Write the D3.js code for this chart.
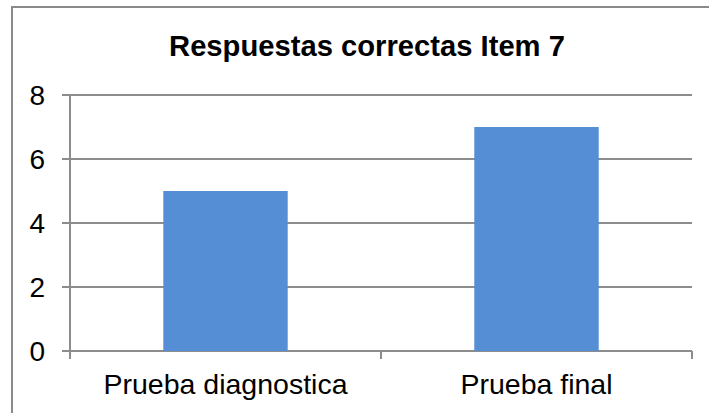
<!DOCTYPE html>
<html>
<head>
<meta charset="utf-8">
<script src="https://cdn.jsdelivr.net/npm/d3@7"></script>
<style>
  html, body { margin: 0; padding: 0; background: #ffffff; }
  svg { display: block; font-family: "Liberation Sans", Arial, sans-serif; }
</style>
</head>
<body>
<svg id="chart" width="709" height="413"></svg>
<script>
// Data
const categories = ["Prueba diagnostica", "Prueba final"];
const values = [5, 7];
const yTicks = [0, 2, 4, 6, 8];
const title = "Respuestas correctas Item 7";

const svg = d3.select("#chart");
const W = 709, H = 413;
const plot = { left: 70, right: 692, top: 95, bottom: 351 };
const gridColor = "#8c8c8c";
const barColor = "#558ed5";

// Chart frame (only top and left edges fall inside the view)
svg.append("path")
  .attr("d", `M12,${H} L12,7 L${W},7`)
  .attr("fill", "none")
  .attr("stroke", "#8a8a8a")
  .attr("stroke-width", 2);

// Title
svg.append("text")
  .attr("x", 367)
  .attr("y", 56)
  .attr("text-anchor", "middle")
  .attr("font-size", 29.2)
  .attr("font-weight", "bold")
  .attr("fill", "#000")
  .text(title);

const x = d3.scaleBand()
  .domain(categories)
  .range([plot.left, plot.right])
  .paddingInner(0.6)
  .paddingOuter(0.3);

const xOuter = d3.scaleBand()
  .domain(categories)
  .range([plot.left, plot.right]);

const y = d3.scaleLinear()
  .domain([0, 8])
  .range([plot.bottom, plot.top]);

// Horizontal gridlines (extend left over the tick marks)
svg.append("g")
  .selectAll("line")
  .data(yTicks)
  .join("line")
  .attr("x1", plot.left - 8)
  .attr("x2", plot.right)
  .attr("y1", d => y(d))
  .attr("y2", d => y(d))
  .attr("stroke", gridColor)
  .attr("stroke-width", 2);

// Y axis line
svg.append("line")
  .attr("x1", plot.left).attr("x2", plot.left)
  .attr("y1", y(8)).attr("y2", plot.bottom + 8)
  .attr("stroke", gridColor)
  .attr("stroke-width", 2);

// Category boundary ticks below the axis
const boundaries = [plot.left, ...categories.map(c => xOuter(c) + xOuter.bandwidth())];
svg.append("g")
  .selectAll("line")
  .data(boundaries.slice(1))
  .join("line")
  .attr("x1", d => d).attr("x2", d => d)
  .attr("y1", plot.bottom).attr("y2", plot.bottom + 8)
  .attr("stroke", gridColor)
  .attr("stroke-width", 2);

// Bars
svg.append("g")
  .selectAll("rect")
  .data(values)
  .join("rect")
  .attr("x", (d, i) => x(categories[i]))
  .attr("width", x.bandwidth())
  .attr("y", d => y(d))
  .attr("height", d => y(0) - y(d))
  .attr("fill", barColor);

// Y tick labels
svg.append("g")
  .selectAll("text")
  .data(yTicks)
  .join("text")
  .attr("x", 45)
  .attr("y", d => y(d))
  .attr("dy", "0.36em")
  .attr("text-anchor", "end")
  .attr("font-size", 28)
  .attr("fill", "#000")
  .text(d => d);

// X category labels
svg.append("g")
  .selectAll("text")
  .data(categories)
  .join("text")
  .attr("x", d => xOuter(d) + xOuter.bandwidth() / 2)
  .attr("y", 394)
  .attr("text-anchor", "middle")
  .attr("font-size", 28.5)
  .attr("fill", "#000")
  .text(d => d);
</script>
</body>
</html>
